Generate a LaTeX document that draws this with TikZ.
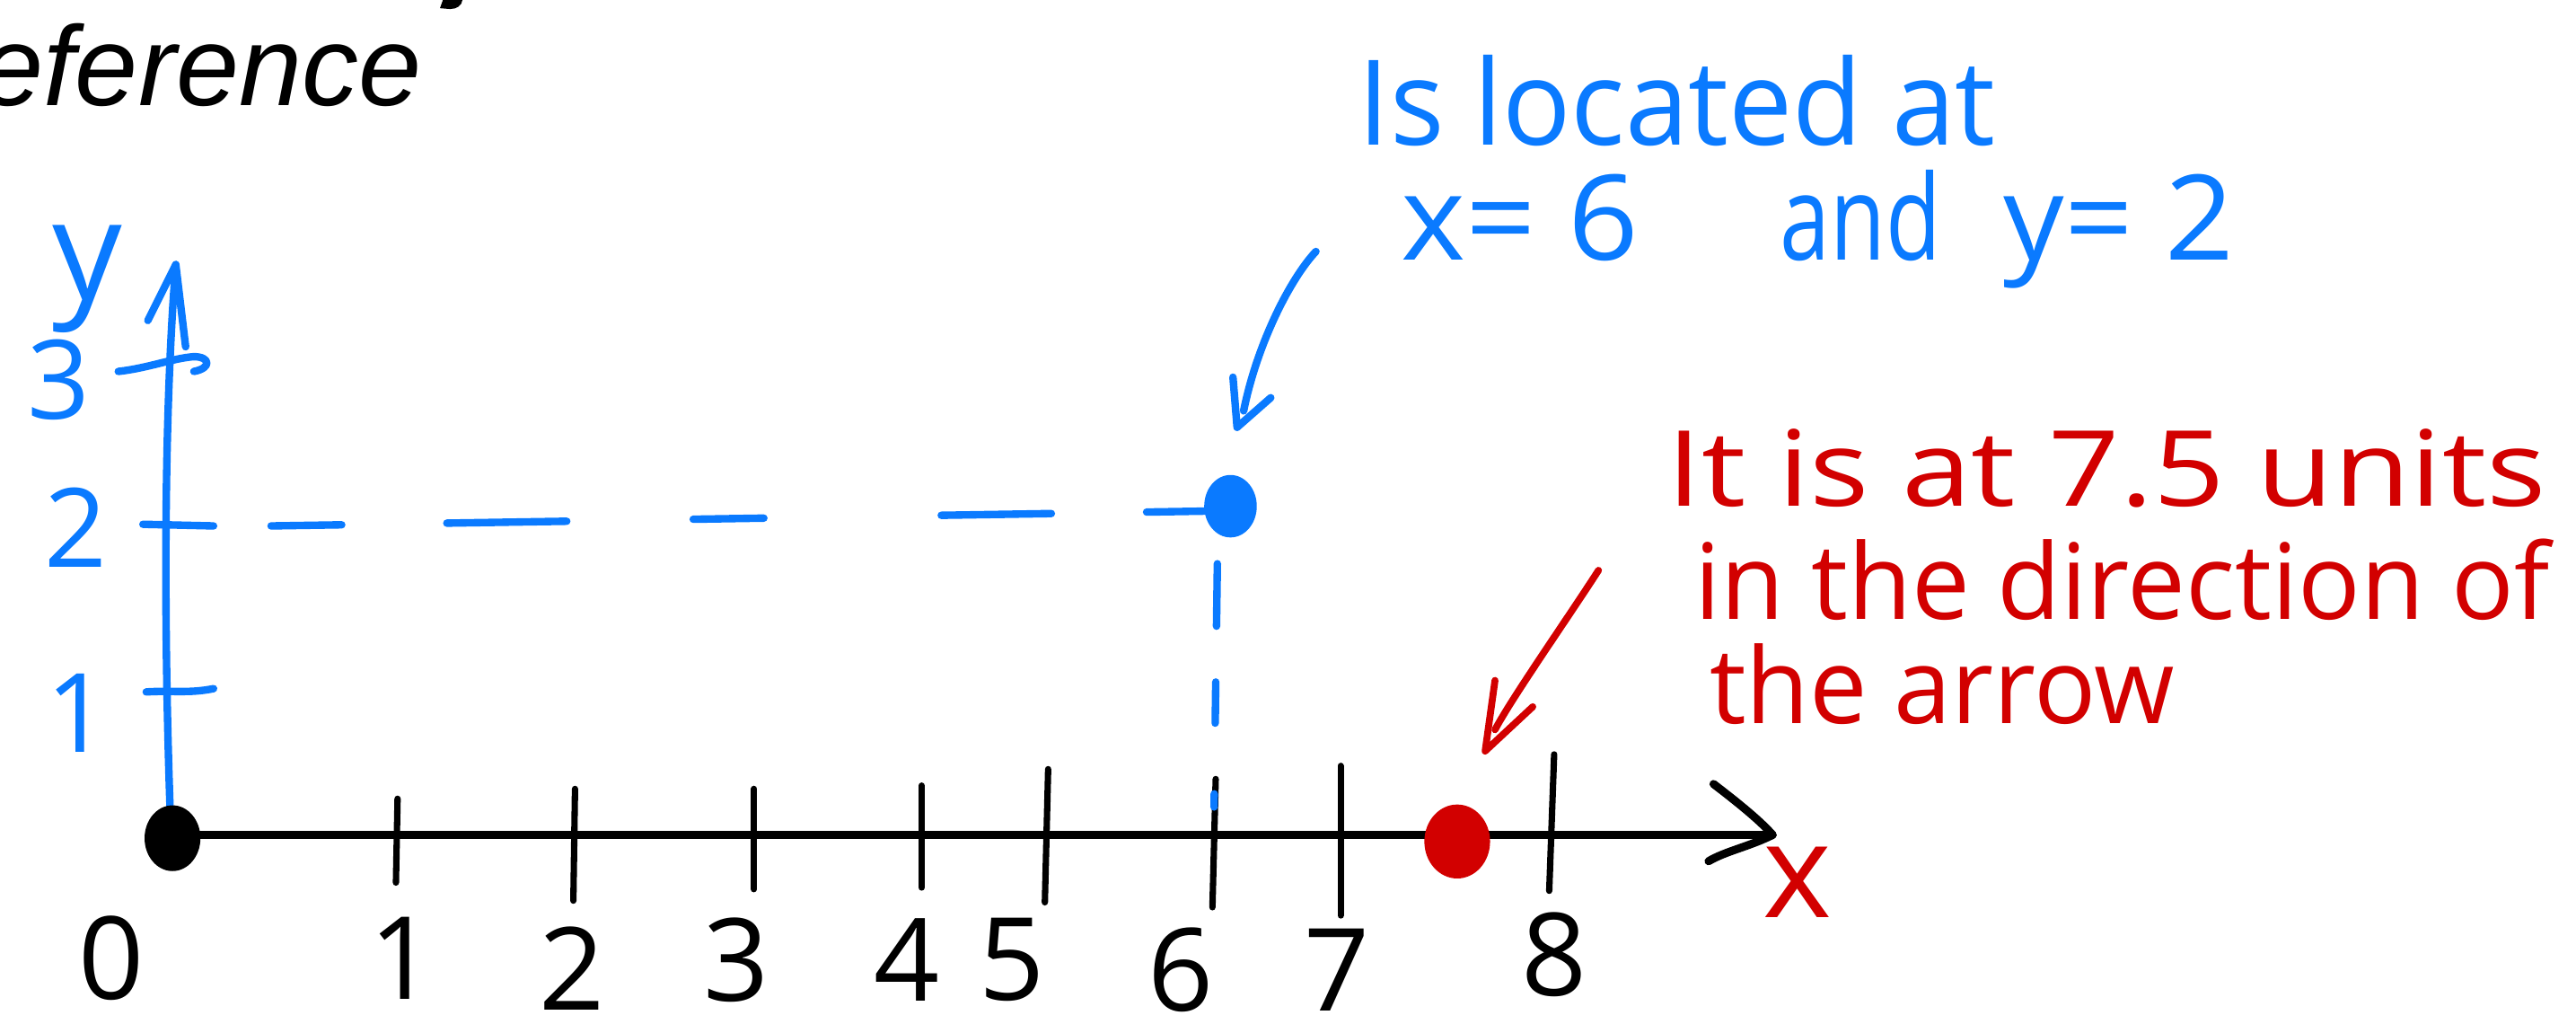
\documentclass[tikz,border=0pt]{standalone}
\usepackage{fontspec}
\setmainfont{Liberation Sans}
\newfontfamily\hand{Open Sans}
\usepackage{graphicx}
\usetikzlibrary{shapes.geometric}
\definecolor{hblue}{RGB}{10,122,255}
\definecolor{hred}{RGB}{210,0,0}
\newcommand\hw[2]{\resizebox{#1}{\height}{#2}}
\begin{document}
\begin{tikzpicture}[x=0.1mm,y=-0.1mm,
  bstroke/.style={hblue,line width=1.3pt,line cap=round,line join=round},
  rstroke/.style={hred,line width=1.2pt,line cap=round,line join=round},
  kstroke/.style={black,line width=1.1pt,line cap=round},
  axisline/.style={black,line width=1.4pt,line cap=round,line join=round},
  bluetxt/.style={hblue,inner sep=0pt,anchor=base west,font=\hand\fontsize{20.5}{22}\selectfont},
  redtxt/.style={hred,inner sep=0pt,anchor=base west,font=\hand\fontsize{18.2}{20}\selectfont},
  digit/.style={inner sep=0pt,font=\hand\fontsize{19.9}{21}\selectfont},
  ydigit/.style={hblue,inner sep=0pt,font=\hand\fontsize{19}{20}\selectfont},
  blob/.style={ellipse,inner sep=0pt},
]
\clip (0,0) rectangle (1568,623);
\fill[white] (0,0) rectangle (1568,623);

% title fragment
\node[inner sep=0pt,anchor=base west,font=\itshape\fontsize{19.6}{22}\selectfont] (title) at (-62,64) {Reference};
\fill (269.6,0) -- (281.5,0) .. controls (281,3.5) and (278,5.5) .. (274,5.5) -- (267.8,5) -- cycle;

% coordinates
\coordinate (O) at (105,508);
\coordinate (xend) at (1079,508);
\coordinate (xup) at (1043,477);
\coordinate (xlo) at (1040,524);
\coordinate (ybot) at (104,505);
\coordinate (ytop) at (107,161);
\coordinate (yl) at (90,195);
\coordinate (yr) at (113,211);

% x axis
\draw[axisline] (O) -- (xend);
\draw[axisline] (xup) .. controls (1060,490) and (1072,500) .. (xend) .. controls (1065,515) and (1050,518) .. (xlo);

% ticks
\coordinate (t1a) at (242,486); \coordinate (t1b) at (241,537);
\coordinate (t2a) at (350,480); \coordinate (t2b) at (349,548);
\coordinate (t3a) at (459,480); \coordinate (t3b) at (459,541);
\coordinate (t4a) at (561,478); \coordinate (t4b) at (561,540);
\coordinate (t5a) at (638,468); \coordinate (t5b) at (636,549);
\coordinate (t6a) at (740,474); \coordinate (t6b) at (738,552);
\coordinate (t7a) at (816,466); \coordinate (t7b) at (816,557);
\coordinate (t8a) at (946,459); \coordinate (t8b) at (943,542);
\foreach \i in {1,...,8} {\draw[kstroke] (t\i a) -- (t\i b);}

% x labels
\node[digit] (l0) at (68,583) {0};
\node[digit] (l1) at (245,583) {1};
\node[digit] (l2) at (348,589) {2};
\node[digit] (l3) at (448,584) {3};
\node[digit] (l4) at (552,584) {4};
\node[digit] (l5) at (616,584) {5};
\node[digit] (l6) at (719,590) {6};
\node[digit] (l7) at (814,590) {7};
\node[digit] (l8) at (946,581) {8};
\node[hred,inner sep=0pt,font=\hand\fontsize{22.8}{24}\selectfont] (xlab) at (1094,537) {x};

% y axis
\draw[bstroke] (ybot) .. controls (100,400) and (99,260) .. (ytop);
\draw[bstroke] (yl) -- (ytop) -- (yr);
\coordinate (y3a) at (72,226); \coordinate (y3b) at (118,226);
\coordinate (y2a) at (87,319); \coordinate (y2b) at (130,320);
\coordinate (y1a) at (89,421); \coordinate (y1b) at (130,419);
\draw[bstroke] (y3a) .. controls (90,224) and (105,218) .. (118,217) .. controls (128,217) and (129,224) .. (y3b);
\draw[bstroke] (y2a) -- (y2b);
\draw[bstroke] (y1a) .. controls (105,420) and (115,422) .. (y1b);
\node[hblue,inner sep=0pt,anchor=base,font=\hand\fontsize{24}{26}\selectfont] (ylab) at (53,182) {y};
\node[ydigit] (m3) at (36,231) {3};
\node[ydigit] (m2) at (46,321) {2};
\node[ydigit] (m1) at (47,434) {1};

% points
\node[blob,fill=black,minimum width=3.4mm,minimum height=4mm] (odot) at (105,510) {};
\node[blob,fill=hblue,minimum width=3.2mm,minimum height=3.8mm] (bdot) at (749,308) {};
\node[blob,fill=hred,minimum width=4mm,minimum height=4.5mm] (rdot) at (887,512) {};

% dashed guides
\coordinate (hd0) at (165,320); \coordinate (hd1) at (733,311);
\draw[bstroke,dash pattern=on 4.3mm off 6.4mm on 7.3mm off 7.7mm on 4.3mm off 10.8mm on 6.7mm off 5.8mm on 4.2mm off 2mm] (hd0) -- (hd1);
\coordinate (vd0) at (741,343); \coordinate (vd1) at (739,491);
\draw[bstroke,dash pattern=on 3.8mm off 3.4mm on 2.5mm off 4.3mm on 0.9mm off 2mm] (vd0) -- (vd1);

% blue annotation
\node[bluetxt] (bl1) at (826,88) {\hw{38.8mm}{Is located at}};
\node[bluetxt] (bl2) at (852,158) {\hw{14.5mm}{x= 6}};
\node[bluetxt] (bl3) at (1083,158) {\hw{9.8mm}{and}};
\node[bluetxt] (bl4) at (1219,158) {\hw{14mm}{y= 2}};
\coordinate (ba0) at (801,153); \coordinate (ba1) at (757,250);
\coordinate (batip) at (753,260); \coordinate (bal) at (750.5,229.5); \coordinate (bar) at (773.5,242);
\draw[bstroke] (ba0) .. controls (785,170) and (765,210) .. (ba1);
\draw[bstroke] (bal) -- (batip) -- (bar);

% red annotation
\node[redtxt] (rl1) at (1014,308) {\hw{53.5mm}{It is at 7.5 units}};
\node[redtxt] (rl2) at (1031,377) {\hw{52mm}{in the direction of}};
\node[redtxt] (rl3) at (1040,440) {\hw{28.3mm}{the arrow}};
\coordinate (ra0) at (973,347); \coordinate (ra1) at (910,444);
\coordinate (ratip) at (904,457); \coordinate (ral) at (910,414); \coordinate (rar) at (933,430);
\draw[rstroke] (ra0) .. controls (955,375) and (920,425) .. (ra1);
\draw[rstroke] (ral) -- (ratip) -- (rar);
\end{tikzpicture}
\end{document}
